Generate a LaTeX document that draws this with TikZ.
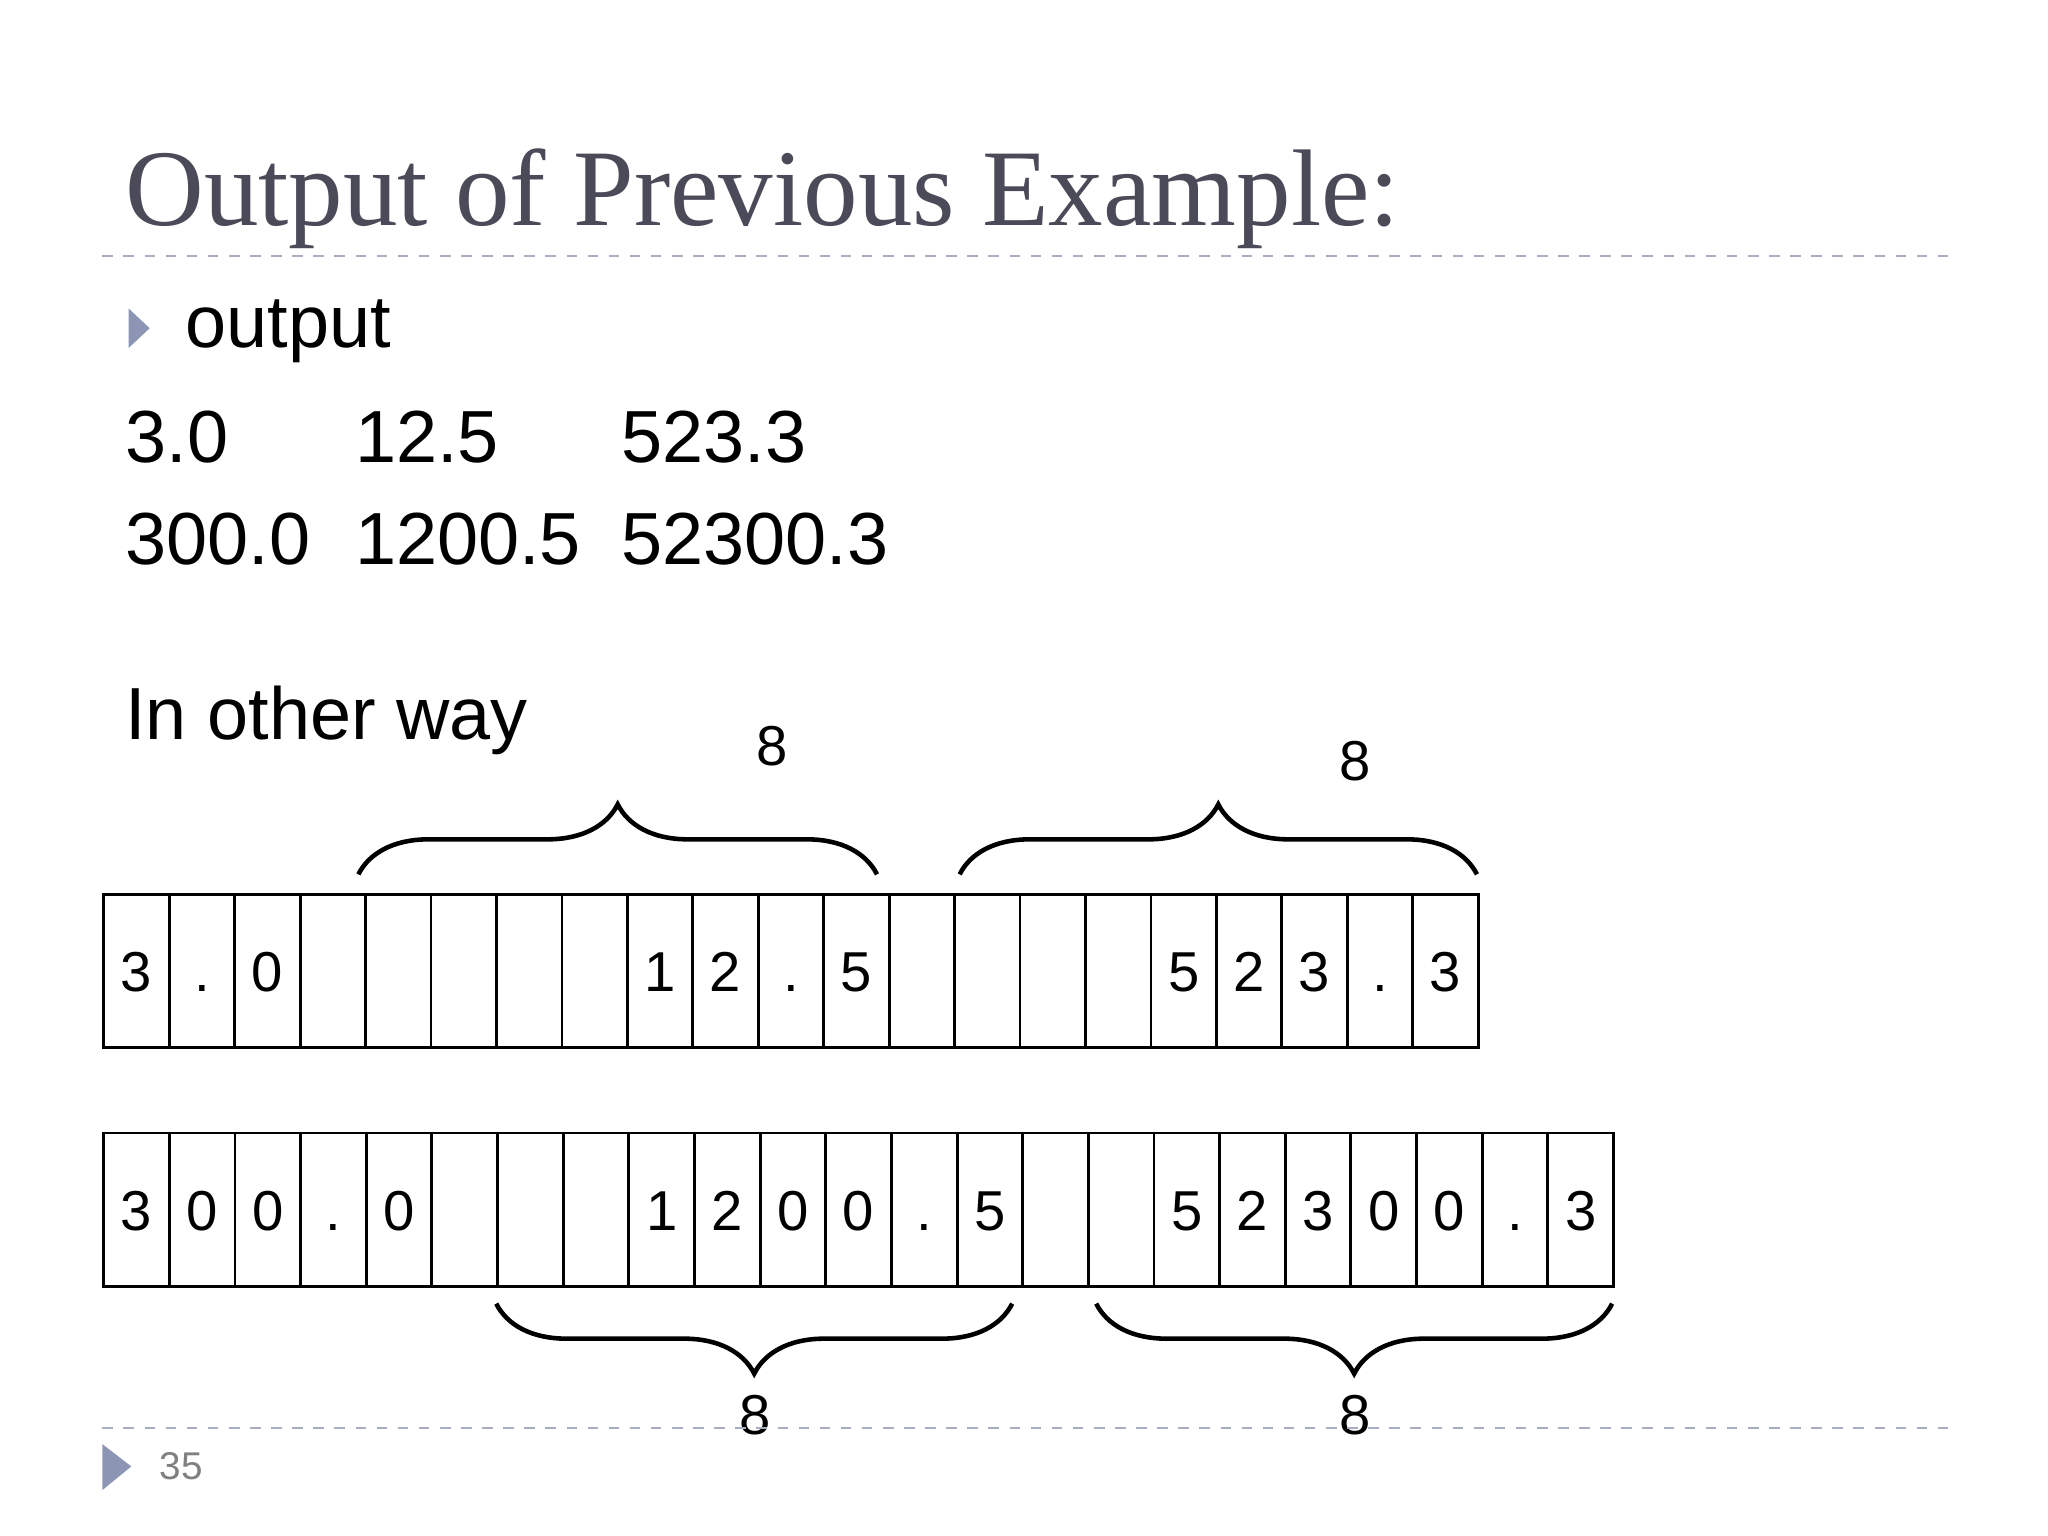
\documentclass[tikz,border=0pt]{standalone}
\usepackage{fontspec}
\setmainfont{Liberation Sans}
\newfontfamily\titlefont{Liberation Serif}
\usetikzlibrary{decorations.pathreplacing}
\definecolor{titlegray}{HTML}{4A4A58}
\definecolor{bulletc}{HTML}{8C96B4}
\definecolor{rulec}{HTML}{A8AEC0}
\tikzset{
  cellbox/.style={draw, line width=0.8pt, minimum width=0.6545cm, minimum height=1.536cm, inner sep=0pt, text height=0.42cm, text depth=0pt, font=\fontsize{16}{16}\selectfont, anchor=north west},
  bodytxt/.style={anchor=base west, inner sep=0pt, font=\fontsize{21}{21}\selectfont},
  brc/.style={decorate, decoration={brace, amplitude=0.7cm, aspect=0.5}, line width=1.3pt},
  lbl/.style={inner sep=0pt, font=\fontsize{16}{16}\selectfont},
  rulel/.style={rulec, dashed, line width=0.6pt}
}
\begin{document}
\begin{tikzpicture}[x=0.013128cm, y=-0.013128cm]
\useasboundingbox (0,0) rectangle (1560,1170);
\node[anchor=base west, inner sep=0pt, text=titlegray, font=\titlefont\fontsize{31}{31}\selectfont] (title) at (95,172) {Output of Previous Example:};
\draw[rulel] (78,195) -- (1490,195);
\fill[bulletc] (98,235) -- (114,250) -- (98,265) -- cycle;
\node[bodytxt] (out) at (141,265) {output};
\node[bodytxt] (a1) at (95,352) {3.0};
\node[bodytxt] (a2) at (270,352) {12.5};
\node[bodytxt] (a3) at (473,352) {523.3};
\node[bodytxt] (b1) at (95,430) {300.0};
\node[bodytxt] (b2) at (270,430) {1200.5};
\node[bodytxt] (b3) at (473,430) {52300.3};
\node[bodytxt] (ow) at (95,563) {In other way};
% top row
\foreach \t [count=\i from 0] in {3,.,0,,,,,,1,2,.,5,,,,,5,2,3,.,3}
  \node[cellbox] (t\i) at (78+49.85*\i,680) {\t};
% bottom row
\foreach \t [count=\i from 0] in {3,0,0,.,0,,,,1,2,0,0,.,5,,,5,2,3,0,0,.,3}
  \node[cellbox] (u\i) at (78+50*\i,862) {\t};
\draw[brc] (273,666) -- (668,666);
\draw[brc] (731,666) -- (1125,666);
\draw[brc] (771,993) -- (378,993);
\draw[brc] (1228,993) -- (835,993);
\node[lbl] (l1) at (588,568) {8};
\node[lbl] (l2) at (1032,580) {8};
\node[lbl] (l3) at (575,1078) {8};
\node[lbl] (l4) at (1032,1078) {8};
\draw[rulel] (78,1088) -- (1490,1088);
\fill[bulletc] (78,1100) -- (100,1117) -- (78,1135) -- cycle;
\node[anchor=west, inner sep=0pt, text=gray, font=\fontsize{11}{11}\selectfont] (pg) at (121,1117) {35};
\end{tikzpicture}
\end{document}
